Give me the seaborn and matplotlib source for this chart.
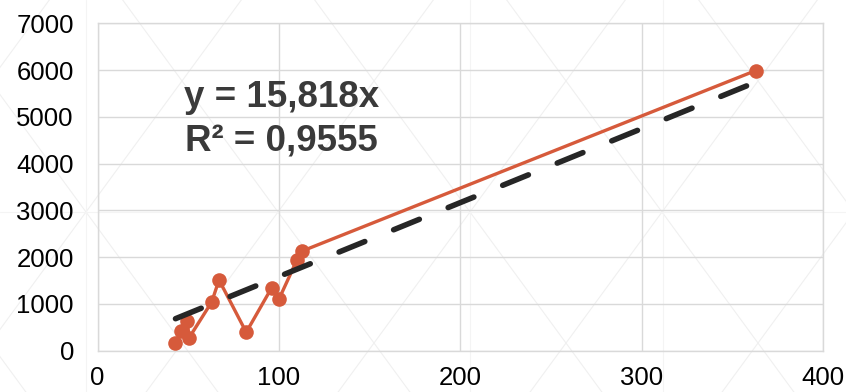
import numpy as np
import pandas as pd
import seaborn as sns
import matplotlib
matplotlib.use("Agg")
import matplotlib.pyplot as plt

# measured series
x_vals = [43, 46, 49.5, 50.5, 63, 67, 82, 96, 100, 110, 113, 363]
y_vals = [150, 420, 640, 270, 1040, 1510, 390, 1340, 1095, 1940, 2130, 5990]

# fitted trend (through origin)
slope = 15.818
r_squared = 0.9555

x_ticks = [0, 100, 200, 300, 400]
y_ticks = [0, 1000, 2000, 3000, 4000, 5000, 6000, 7000]

eq_lines = [f"y = {slope:.3f}x".replace(".", ","),
            f"R² = {r_squared:.4f}".replace(".", ",")]

series_color = "#d65a3b"
trend_color = "#262626"
grid_color = "#d9d9d9"

sns.set_theme(style="white")
plt.rcParams["font.family"] = ["Liberation Sans", "DejaVu Sans"]

W, H, DPI = 846, 392, 100
fig = plt.figure(figsize=(W / DPI, H / DPI), dpi=DPI)
fig.patch.set_facecolor("white")

# faint lattice behind everything
bg = fig.add_axes([0, 0, 1, 1], zorder=-5)
bg.set_xlim(0, W)
bg.set_ylim(H, 0)
bg.axis("off")
lat_color = "#f0f0f0"
k_slope = 1.365
for k in range(-4, 9):
    cx, cy = 86 + 192 * k, 212
    xs = np.array([cx - 400, cx + 400])
    bg.plot(xs, cy + k_slope * (xs - cx), color=lat_color, lw=0.8)
    bg.plot(xs, cy - k_slope * (xs - cx), color=lat_color, lw=0.8)
bg.axhline(212, color="#f4f4f4", lw=0.8)
for vx in [86, 470, 663]:
    bg.axvline(vx, color="#f4f4f4", lw=0.8)

ax = fig.add_axes([97.5 / W, 1 - 350.5 / H, (823 - 97.5) / W, (350.5 - 23.3) / H])
ax.set_facecolor("none")

df = pd.DataFrame({"x": x_vals, "y": y_vals})
sns.lineplot(data=df, x="x", y="y", sort=False, estimator=None, ax=ax,
             color=series_color, linewidth=2.4, marker="o", markersize=10.5,
             markeredgewidth=0, zorder=3)

trend_x = np.array([min(x_vals), max(x_vals)])
trend_df = pd.DataFrame({"x": trend_x, "y": slope * trend_x})
sns.lineplot(data=trend_df, x="x", y="y", ax=ax, color=trend_color,
             linewidth=4.0, zorder=4)
tl = ax.lines[-1]
tl.set_dashes([5.0, 5.6])
tl.set_dash_capstyle("round")

ax.set_xlim(0, 400)
ax.set_ylim(0, 7000)
ax.set_xticks(x_ticks)
ax.set_yticks(y_ticks)
ax.set_xlabel("")
ax.set_ylabel("")
ax.grid(True, color=grid_color, linewidth=1.0)
ax.set_axisbelow(True)
for sp in ax.spines.values():
    sp.set_visible(True)
    sp.set_color(grid_color)
    sp.set_linewidth(1.0)
ax.tick_params(axis="both", length=0, labelsize=18.5, labelcolor="black")
ax.tick_params(axis="y", pad=17)
ax.tick_params(axis="x", pad=11)

ax.text(47.7, 5207, eq_lines[0], fontsize=26.5, fontweight="bold",
        color="#3a3a3a", va="baseline", ha="left", zorder=5)
ax.text(48.5, 4286, eq_lines[1], fontsize=26.5, fontweight="bold",
        color="#3a3a3a", va="baseline", ha="left", zorder=5)

fig.savefig("out.png", dpi=DPI, facecolor="white")
